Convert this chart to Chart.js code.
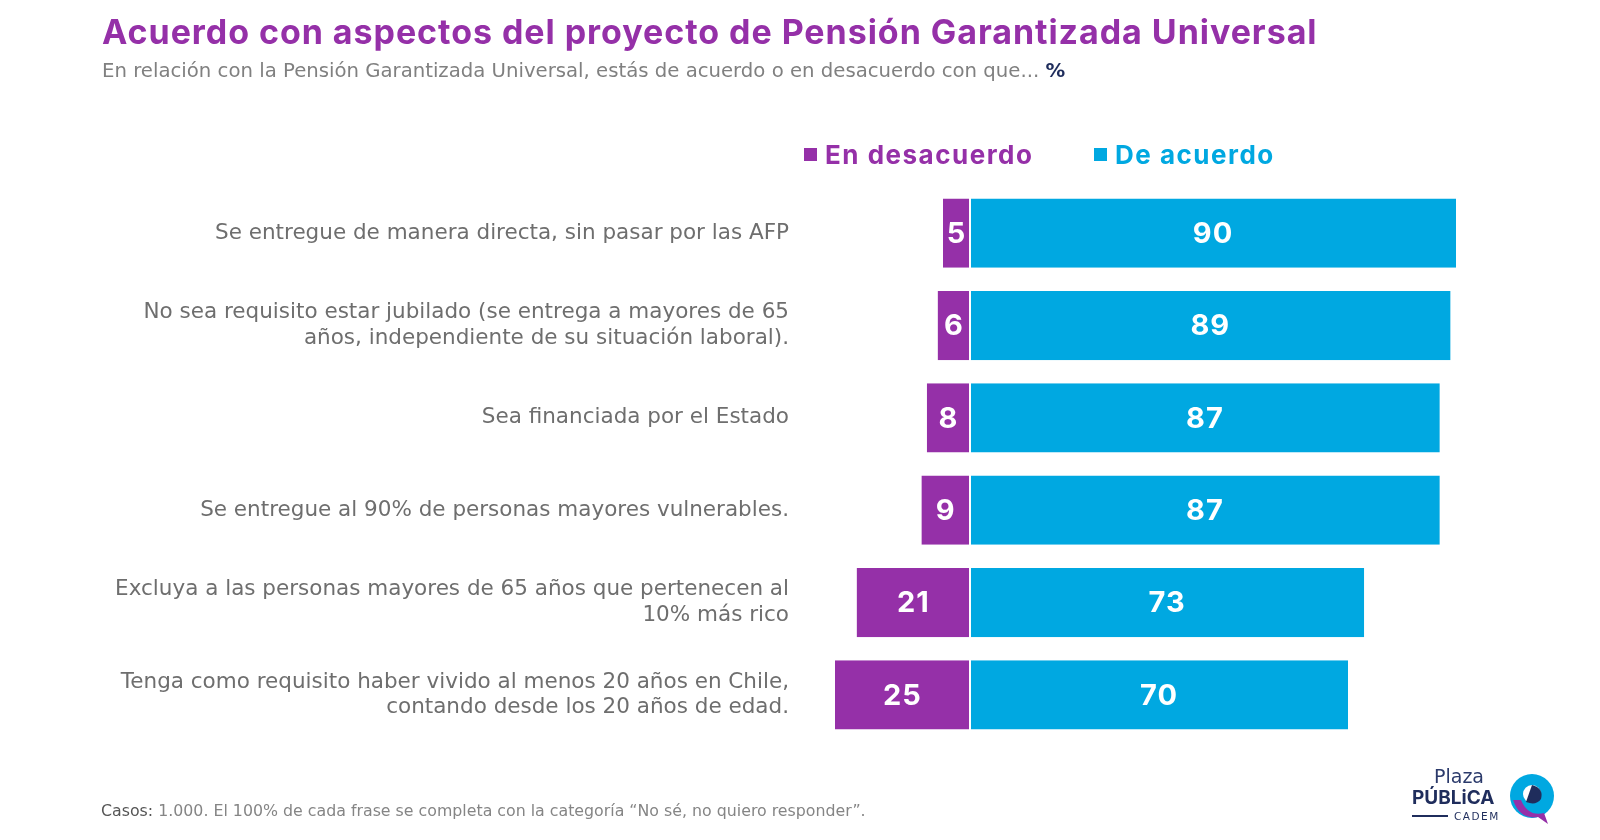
<!DOCTYPE html>
<html>
<head>
<meta charset="utf-8">
<script src="https://cdn.jsdelivr.net/npm/chart.js@4.4.1/dist/chart.umd.min.js"></script>
<style>
  html, body { margin: 0; padding: 0; background: #fff; }
  #wrap { position: relative; width: 1600px; height: 840px; overflow: hidden; font-family: "Inter", sans-serif; }
  #chart { position: absolute; left: 0; top: 0; }
  .title { position: absolute; left: 102px; top: 11px; font-size: 34px; letter-spacing: 0.95px; font-weight: 700; color: #9530a8; white-space: nowrap; }
  .sub { position: absolute; left: 102px; top: 59px; font-family: "DejaVu Sans", sans-serif; font-size: 19.7px; color: #808080; white-space: nowrap; }
  .sub b { color: #1f2d5c; }
  .legend { position: absolute; top: 139px; font-size: 26px; letter-spacing: 1.5px; font-weight: 700; white-space: nowrap; }
  .legend span.sq { display: inline-block; width: 13px; height: 13px; margin-right: 8px; vertical-align: 3px; }
  .foot { position: absolute; left: 101px; top: 801px; font-family: "DejaVu Sans", sans-serif; font-size: 15.8px; color: #858585; white-space: nowrap; }
  .foot b { font-weight: 400; color: #555; }
  .logo { position: absolute; left: 1410px; top: 766px; width: 150px; height: 62px; }
</style>
</head>
<body>
<div id="wrap">
  <canvas id="chart" width="1600" height="840"></canvas>
  <div class="title">Acuerdo con aspectos del proyecto de Pensión Garantizada Universal</div>
  <div class="sub">En relación con la Pensión Garantizada Universal, estás de acuerdo o en desacuerdo con que... <b>%</b></div>
  <div class="legend" style="left:804px;color:#9530a8"><span class="sq" style="background:#9530a8"></span>En desacuerdo</div>
  <div class="legend" style="left:1094px;color:#00a8e1"><span class="sq" style="background:#00a8e1"></span>De acuerdo</div>
  <div class="foot"><b>Casos:</b> 1.000. El 100% de cada frase se completa con la categoría “No sé, no quiero responder”.</div>
  <svg class="logo" viewBox="0 0 150 62">
    <text x="24" y="17" font-family="DejaVu Sans" font-size="19" fill="#2b3a6b">Plaza</text>
    <text x="2" y="38" font-family="Inter" font-weight="700" font-size="19" fill="#1f2d5c">PÚBLiCA</text>
    <line x1="2" y1="50" x2="38" y2="50" stroke="#1f2d5c" stroke-width="2"/>
    <text x="44" y="54" font-family="DejaVu Sans" font-size="10.5" letter-spacing="1.5" fill="#1f2d5c">CADEM</text>
    <circle cx="122" cy="30" r="22" fill="#00a8e1"/>
    <path d="M103 34 Q110 54 128 51 L138 58 L134 47 Q118 51 111 34 Z" fill="#9530a8"/>
    <circle cx="122" cy="28" r="9" fill="#fff"/>
    <path d="M122 19 Q134 22 131 33 Q126 40 116 36 Z" fill="#1f2d5c"/>
  </svg>
</div>
<script>
// datos
const categorias = [
  ['Se entregue de manera directa, sin pasar por las AFP'],
  ['No sea requisito estar jubilado (se entrega a mayores de 65', 'años, independiente de su situación laboral).'],
  ['Sea financiada por el Estado'],
  ['Se entregue al 90% de personas mayores vulnerables.'],
  ['Excluya a las personas mayores de 65 años que pertenecen al', '10% más rico'],
  ['Tenga como requisito haber vivido al menos 20 años en Chile,', 'contando desde los 20 años de edad.']
]
const enDesacuerdo = [5, 6, 8, 9, 21, 25]
const deAcuerdo = [90, 89, 87, 87, 73, 70]

const MORADO = '#9530a8'
const CELESTE = '#00a8e1'

// etiquetas blancas dentro de las barras
const etiquetas = {
  id: 'etiquetas',
  afterDatasetsDraw(chart) {
    const ctx = chart.ctx
    ctx.save()
    ctx.fillStyle = '#fff'
    ctx.font = 'bold 29px "Inter"'
    ctx.letterSpacing = '1px'
    ctx.textAlign = 'center'
    ctx.textBaseline = 'middle'
    chart.data.datasets.forEach((ds, i) => {
      chart.getDatasetMeta(i).data.forEach((bar, j) => {
        const cx = (bar.x + bar.base) / 2
        ctx.fillText(String(ds.valores[j]), cx, bar.y + 1)
      })
    })
    ctx.restore()
  }
}

new Chart(document.getElementById('chart'), {
  type: 'bar',
  data: {
    labels: categorias,
    datasets: [
      { label: 'En desacuerdo', data: enDesacuerdo.map(v => -v), valores: enDesacuerdo,
        backgroundColor: MORADO, borderColor: '#fff', borderWidth: { right: 1 }, borderSkipped: false },
      { label: 'De acuerdo', data: deAcuerdo, valores: deAcuerdo,
        backgroundColor: CELESTE, borderColor: '#fff', borderWidth: { left: 1 }, borderSkipped: false }
    ]
  },
  options: {
    indexAxis: 'y',
    responsive: false,
    animation: false,
    layout: { padding: { left: 0, right: 90, top: 187, bottom: 99 } },
    datasets: { bar: { barPercentage: 0.75, categoryPercentage: 1 } },
    scales: {
      x: {
        stacked: true, min: -30, max: 100, display: false
      },
      y: {
        stacked: true,
        grid: { display: false, drawTicks: false },
        border: { display: false },
        ticks: { color: '#6e6e6e', font: { family: 'DejaVu Sans', size: 21.5, lineHeight: 1.2 }, padding: 19 },
        afterFit(s) { s.width = 808 }
      }
    },
    plugins: { legend: { display: false }, tooltip: { enabled: false } }
  },
  plugins: [etiquetas]
})
</script>
</body>
</html>
